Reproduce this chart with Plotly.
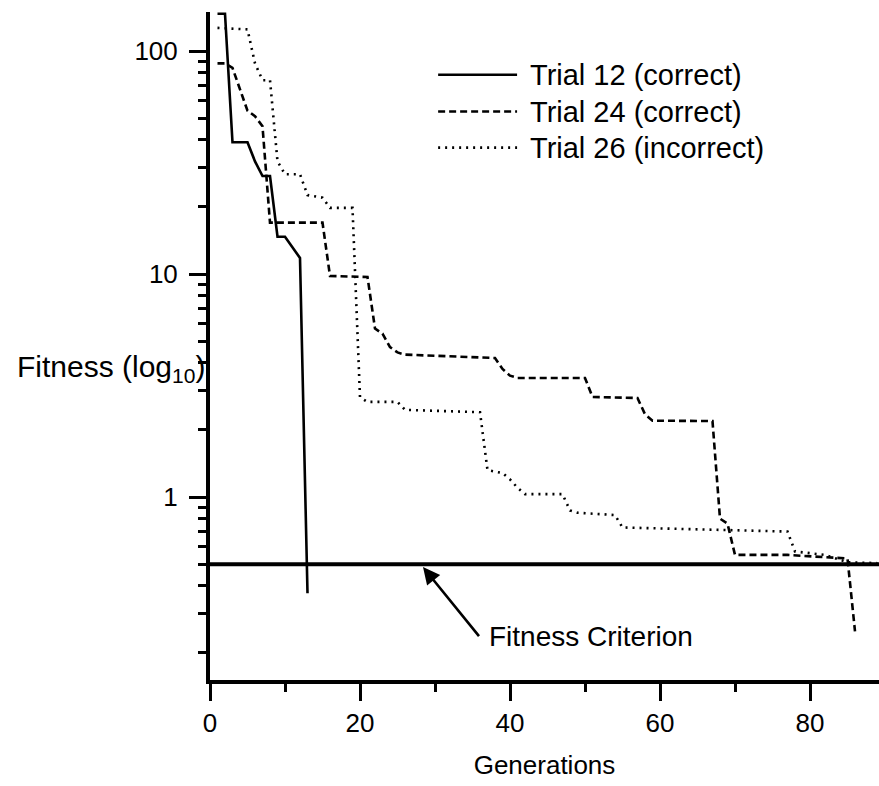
import math
import plotly.graph_objects as go

# Best fitness per generation for three GP trials (log scale)
trial12_gen = [1, 2, 3, 5, 6, 7, 8, 9, 10, 11, 12, 13]
trial12_fit = [147, 147, 39, 39, 32, 27.5, 27.5, 14.7, 14.7, 13.2, 11.8, 0.37]

trial24_gen = [1, 2, 3, 4, 5, 6, 7, 8, 15, 16, 21, 22, 23, 24, 25, 26, 38, 39, 40, 41,
               50, 51, 57, 58, 59, 67, 68, 69, 70, 77, 85, 86]
trial24_fit = [88, 88, 84, 68, 54, 51, 46, 17, 17, 9.8, 9.7, 5.7, 5.4, 4.7, 4.45, 4.35,
               4.2, 3.75, 3.5, 3.42, 3.42, 2.81, 2.78, 2.35, 2.2, 2.19, 0.8, 0.76, 0.55,
               0.55, 0.53, 0.25]

trial26_gen = [1, 5, 6, 7, 8, 9, 10, 12, 13, 15, 16, 19, 20, 21, 25, 26, 36, 37, 39, 40,
               41, 42, 47, 48, 49, 54, 55, 77, 78, 82, 85, 89]
trial26_fit = [127, 125, 88, 74, 74, 32, 28, 28, 22.6, 22, 19.8, 19.8, 2.8, 2.67, 2.67,
               2.46, 2.4, 1.32, 1.28, 1.2, 1.1, 1.03, 1.03, 0.87, 0.85, 0.83, 0.73, 0.70,
               0.57, 0.55, 0.51, 0.505]

criterion = 0.5
x_max = 89.2

series_names = ["Trial 12 (correct)", "Trial 24 (correct)", "Trial 26 (incorrect)"]
series_dash = ["solid", "7px,4px", "2px,5px"]

x_ticks = [0, 20, 40, 60, 80]
x_minor = [10, 30, 50, 70]
y_ticks = [1, 10, 100]
y_minor = [m * d for d in (0.1, 1, 10) for m in range(2, 10)]

FONT = "Liberation Sans, Arial, sans-serif"

fig = go.Figure()
for name, gx, gy, dash in zip(series_names,
                              [trial12_gen, trial24_gen, trial26_gen],
                              [trial12_fit, trial24_fit, trial26_fit],
                              series_dash):
    fig.add_trace(go.Scatter(x=gx, y=gy, mode="lines", name=name,
                             line=dict(color="black", width=2.6, dash=dash),
                             showlegend=False))

# fitness criterion threshold
fig.add_trace(go.Scatter(x=[0, x_max], y=[criterion, criterion], mode="lines",
                         line=dict(color="black", width=4), showlegend=False))

# hand-drawn legend: long line samples with labels
legend_rows = [0.906, 0.851, 0.797]
shapes = []
annotations = []
for name, dash, ry in zip(series_names, series_dash, legend_rows):
    shapes.append(dict(type="line", xref="paper", yref="paper",
                       x0=0.341, x1=0.459, y0=ry, y1=ry,
                       line=dict(color="black", width=2.6, dash=dash)))
    annotations.append(dict(xref="paper", yref="paper", x=0.476, y=ry,
                            xanchor="left", yanchor="middle", text=name,
                            showarrow=False, font=dict(size=29, family=FONT, color="black")))

# label with an arrow pointing at the criterion line
annotations.append(dict(x=28.4, y=math.log10(0.485), xref="x", yref="y",
                        text="Fitness Criterion", showarrow=True,
                        arrowhead=2, arrowsize=1.3, arrowwidth=2.6, arrowcolor="black",
                        ax=56, ay=69, standoff=0, borderpad=9,
                        xanchor="left", yanchor="middle",
                        font=dict(size=28, family=FONT, color="black")))

# horizontal y-axis title
annotations.append(dict(xref="paper", yref="paper", x=-0.004, y=0.466,
                        xanchor="right", yanchor="middle",
                        text="Fitness (log<sub>10</sub>)", showarrow=False,
                        font=dict(size=30, family=FONT, color="black")))

fig.update_layout(
    width=879, height=786,
    margin=dict(l=210, r=0, t=12, b=106),
    paper_bgcolor="white", plot_bgcolor="white",
    font=dict(family=FONT, color="black"),
    shapes=shapes, annotations=annotations,
    xaxis=dict(range=[0, x_max], showgrid=False, zeroline=False,
               showline=True, linecolor="black", linewidth=4,
               ticks="outside", ticklen=17, tickwidth=3, tickcolor="black",
               tickvals=x_ticks, tickfont=dict(size=26, family=FONT),
               minor=dict(tickvals=x_minor, ticks="outside", ticklen=8,
                          tickwidth=3, tickcolor="black", showgrid=False),
               title=dict(text="Generations", font=dict(size=26, family=FONT),
                          standoff=20)),
    yaxis=dict(type="log", range=[-0.8206, 2.175], showgrid=False, zeroline=False,
               showline=True, linecolor="black", linewidth=4,
               ticks="outside", ticklen=17, tickwidth=3, tickcolor="black",
               tickvals=y_ticks, ticktext=[str(v) for v in y_ticks],
               tickfont=dict(size=26, family=FONT), ticklabelstandoff=6,
               minor=dict(tickvals=y_minor, ticks="outside", ticklen=8,
                          tickwidth=3, tickcolor="black", showgrid=False)),
)

fig.write_html("out.html")
